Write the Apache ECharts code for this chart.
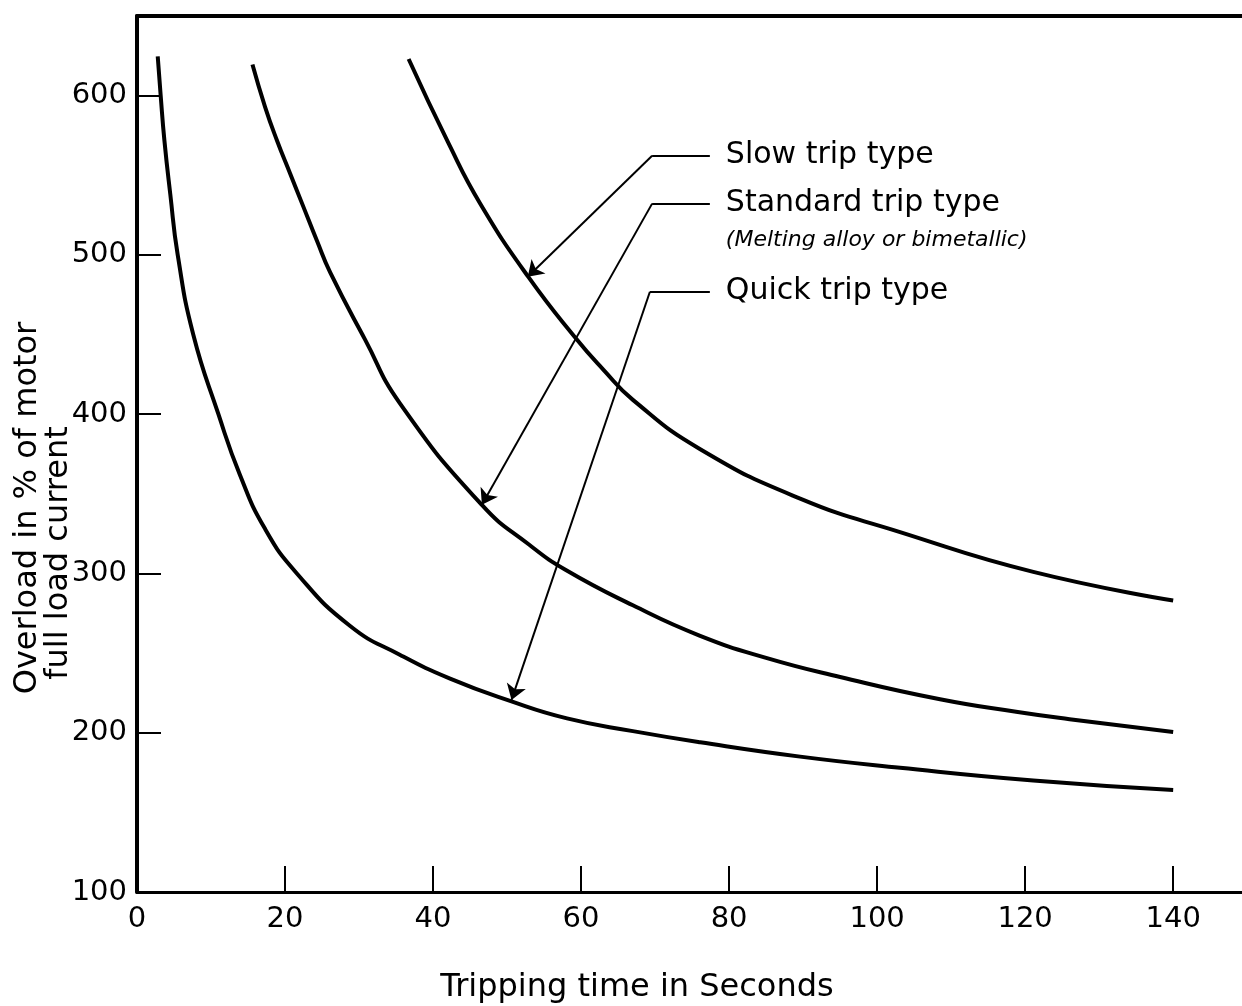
<!DOCTYPE html>
<html>
<head>
<meta charset="utf-8">
<script src="https://cdn.jsdelivr.net/npm/echarts@6/dist/echarts.min.js"></script>
<style>
  html, body { margin: 0; padding: 0; background: #fff; }
  #chart { width: 1242px; height: 1006px; }
</style>
</head>
<body>
<div id="chart"></div>
<script>
  // tick labels
  var xTicks = [0, 20, 40, 60, 80, 100, 120, 140];
  var yTicks = [100, 200, 300, 400, 500, 600];

  // curves: tripping time (s) vs overload (%)
  var quickT = [2.8, 3.2, 3.7, 4.5, 5.5, 7.6, 11.0, 13.9, 17.3, 21.6, 28.8, 35.5, 42.3, 50.4, 58.1, 67, 76.1, 89.6, 103.1, 121.1, 140];
  var quickV = [624.7, 600, 572, 538, 500, 450, 400, 362, 328, 300, 267, 249, 234, 220, 209, 201, 194, 185, 178, 170, 164];

  var standardT = [15.6, 17.3, 18.9, 20.7, 22.5, 24.3, 26.1, 30.8, 35.5, 46.6, 53, 58, 67, 76, 85, 95, 108.5, 119, 126, 140];
  var standardV = [619.5, 593, 572, 551, 530, 509, 489, 447, 407, 343, 318, 302, 280, 261, 247, 235, 221, 213, 208.5, 200.5];

  var slowT = [36.7, 42.1, 46.4, 52.9, 59.4, 63, 67, 76.1, 89.6, 103.1, 121.1, 140];
  var slowV = [623, 570, 532, 486, 447, 428, 409, 378, 347, 326, 301, 283];

  // leader lines: label end -> corner, corner -> arrow tip
  var leaderEnds = [[77.4, 562.3], [77.4, 532.2], [77.4, 476.9]];
  var leaderCorners = [[69.6, 562.3], [69.6, 532.2], [69.3, 476.9]];
  var arrowTips = [[52.8, 486.3], [46.6, 343.1], [50.6, 220.6]];

  var labelNames = ['Slow trip type', 'Standard trip type', '(Melting alloy or bimetallic)', 'Quick trip type'];
  var labelT = [77.4, 77.4, 77.4, 77.4];
  var labelV = [562.3, 532.2, 509, 476.9];

  function pairs(xs, ys) {
    return xs.map(function (x, i) { return [x, ys[i]]; });
  }

  var font = '"DejaVu Sans", sans-serif';
  var chart = echarts.init(document.getElementById('chart'));

  function curve(name, xs, ys) {
    return {
      name: name, type: 'line', data: pairs(xs, ys), smooth: 0.5,
      showSymbol: false, symbol: 'none', silent: true,
      lineStyle: { color: '#000', width: 4 }
    };
  }

  var labelData = labelNames.map(function (n, i) {
    var sub = i === 2;
    return {
      name: n,
      value: [labelT[i], labelV[i]],
      label: { fontSize: sub ? 22 : 30, fontStyle: sub ? 'italic' : 'normal' }
    };
  });

  chart.setOption({
    backgroundColor: '#fff',
    animation: false,
    grid: { left: 137, right: 0, top: 16, bottom: 114 },
    xAxis: [{
      type: 'value', min: 0, max: 149.3, interval: 20,
      axisLine: { lineStyle: { color: '#000', width: 3 } },
      axisTick: { inside: true, length: 26, customValues: xTicks, lineStyle: { color: '#000', width: 2 } },
      axisLabel: { customValues: xTicks, color: '#000', fontFamily: font, fontSize: 29, margin: 13 },
      splitLine: { show: false }
    }, {
      type: 'value', position: 'top', min: 0, max: 149.3,
      axisLine: { show: true, lineStyle: { color: '#000', width: 4 } },
      axisTick: { show: false }, axisLabel: { show: false }, splitLine: { show: false }
    }],
    yAxis: {
      type: 'value', min: 100, max: 650, interval: 100,
      axisLine: { lineStyle: { color: '#000', width: 4 } },
      axisTick: { inside: true, length: 24, customValues: yTicks, lineStyle: { color: '#000', width: 2 } },
      axisLabel: { customValues: yTicks, color: '#000', fontFamily: font, fontSize: 29, margin: 10 },
      splitLine: { show: false }
    },
    graphic: [
      { type: 'text', x: 28, y: 508, rotation: Math.PI / 2,
        style: { text: 'Overload in % of motor', font: '32px ' + font, fill: '#000', align: 'center', verticalAlign: 'middle' } },
      { type: 'text', x: 59, y: 553, rotation: Math.PI / 2,
        style: { text: 'full load current', font: '32px ' + font, fill: '#000', align: 'center', verticalAlign: 'middle' } },
      { type: 'text', x: 637, y: 988,
        style: { text: 'Tripping time in Seconds', font: '32px ' + font, fill: '#000', align: 'center', verticalAlign: 'middle' } }
    ],
    series: [
      curve('Quick trip type', quickT, quickV),
      curve('Standard trip type', standardT, standardV),
      curve('Slow trip type', slowT, slowV),
      {
        type: 'lines', coordinateSystem: 'cartesian2d', silent: true, symbol: 'none',
        lineStyle: { color: '#000', width: 2, opacity: 1, curveness: 0 },
        data: leaderEnds.map(function (p, i) { return { coords: [p, leaderCorners[i]] }; })
      },
      {
        type: 'lines', coordinateSystem: 'cartesian2d', silent: true,
        symbol: ['none', 'arrow'], symbolSize: 15,
        lineStyle: { color: '#000', width: 2, opacity: 1, curveness: 0 },
        data: leaderCorners.map(function (p, i) { return { coords: [p, arrowTips[i]] }; })
      },
      {
        type: 'scatter', symbolSize: 0, silent: true, data: labelData,
        itemStyle: { opacity: 1 },
        label: {
          show: true, position: 'right', distance: 16, formatter: '{b}',
          color: '#000', fontFamily: font, fontSize: 30
        }
      }
    ]
  });

  window.onresize = function () { chart.resize(); };
</script>
</body>
</html>
